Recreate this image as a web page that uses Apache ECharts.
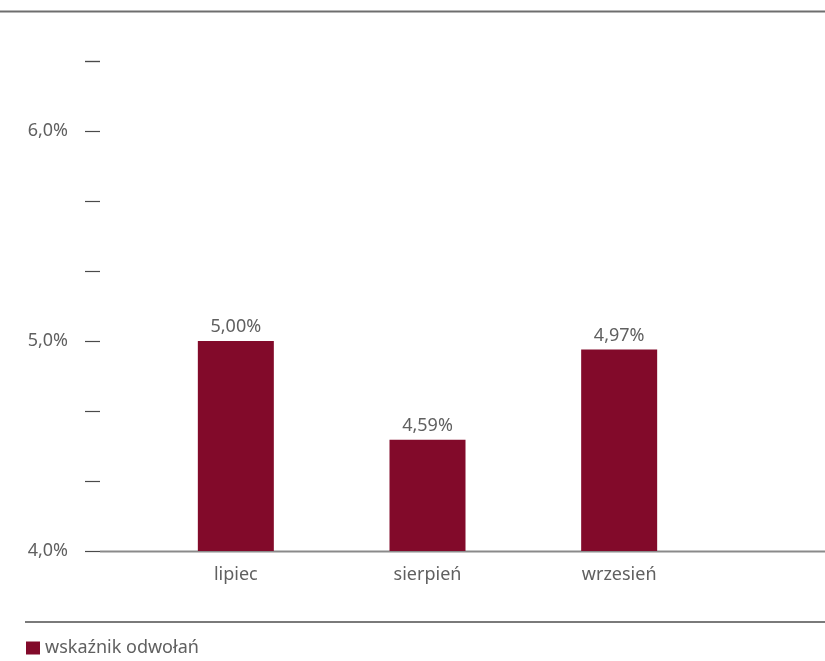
<!DOCTYPE html>
<html>
<head>
<meta charset="utf-8">
<script src="https://cdn.jsdelivr.net/npm/echarts@6/dist/echarts.min.js"></script>
<style>
html,body{margin:0;padding:0;background:#fff;}
#chart{width:825px;height:661px;}
</style>
</head>
<body>
<div id="chart"></div>
<script>
var categories = ['lipiec', 'sierpień', 'wrzesień'];
var barValues = [5.00, 4.53, 4.96];
var barLabels = ['5,00%', '4,59%', '4,97%'];
var seriesName = 'wskaźnik odwołań';
var yMin = 4;
var yMax = 19 / 3;
var yInterval = 1 / 3;

var FONT = '"Noto Sans", sans-serif';
var TXT = '#606060';

var chart = echarts.init(document.getElementById('chart'));
chart.setOption({
  animation: false,
  textStyle: { fontFamily: FONT },
  grid: { left: 140, right: 110, top: 61, bottom: 110, containLabel: false },
  legend: {
    data: [seriesName],
    left: 21, top: 634,
    itemWidth: 14, itemHeight: 13, itemGap: 10,
    icon: 'rect',
    textStyle: { color: TXT, fontSize: 18, fontFamily: FONT }
  },
  xAxis: {
    type: 'category',
    data: categories,
    axisLine: { show: false },
    axisTick: { show: false },
    axisLabel: { color: TXT, fontSize: 18, fontFamily: FONT, margin: 15 }
  },
  yAxis: {
    type: 'value',
    min: yMin, max: yMax, interval: yInterval,
    offset: 40,
    axisLine: { show: false },
    splitLine: { show: false },
    axisTick: { show: true, length: 15, lineStyle: { color: '#4a4a4a', width: 1.2 } },
    axisLabel: {
      color: TXT, fontSize: 18, fontFamily: FONT, margin: 32,
      formatter: function (v) {
        if (Math.abs(v - Math.round(v)) < 1e-6) return Math.round(v).toFixed(1).replace('.', ',') + '%';
        return '';
      }
    }
  },
  series: [{
    name: seriesName,
    type: 'bar',
    data: barValues,
    barWidth: 76,
    itemStyle: { color: '#820a2a' },
    label: {
      show: true, position: 'top', distance: 5,
      color: TXT, fontSize: 18, fontFamily: FONT,
      formatter: function (p) { return barLabels[p.dataIndex]; }
    }
  }],
  graphic: [
    { type: 'line', shape: { x1: 0, y1: 11.5, x2: 825, y2: 11.5 }, style: { stroke: '#6e6e6e', lineWidth: 2 }, silent: true },
    { type: 'line', shape: { x1: 100, y1: 551.5, x2: 825, y2: 551.5 }, style: { stroke: '#8a8a8a', lineWidth: 2 }, silent: true },
    { type: 'line', shape: { x1: 25, y1: 622, x2: 825, y2: 622 }, style: { stroke: '#7a7a7a', lineWidth: 2 }, silent: true }
  ]
});
</script>
</body>
</html>
